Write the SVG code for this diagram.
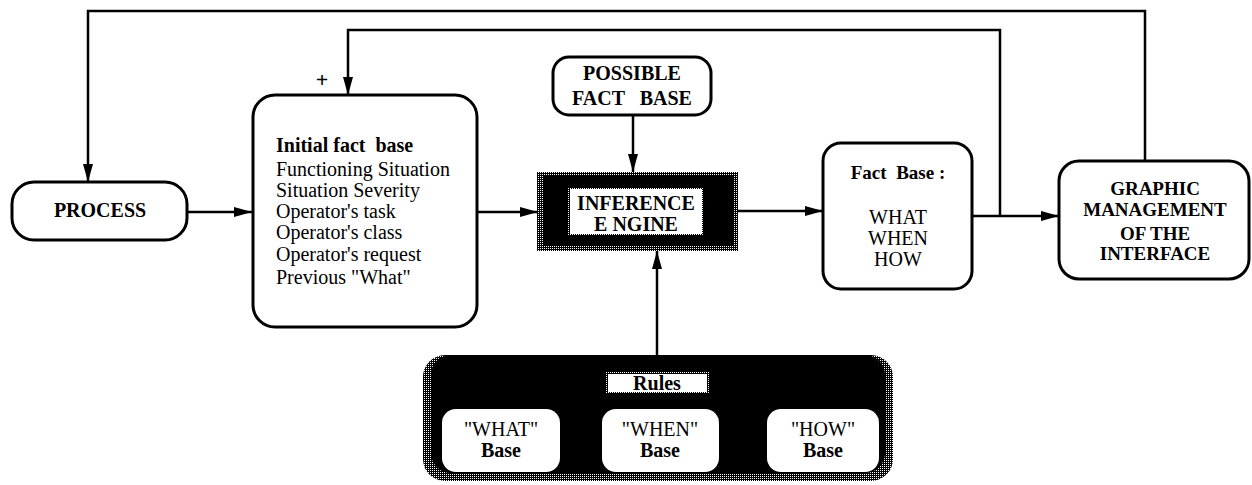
<svg xmlns="http://www.w3.org/2000/svg" width="1252" height="485" viewBox="0 0 1252 485">
  <style>
    .box { fill: #fff; stroke: #000; stroke-width: 3; }
    .wire { fill: none; stroke: #000; stroke-width: 2.5; }
    .t { font-family: "Liberation Serif", "Times New Roman", serif; fill: #000; }
    .b { font-weight: bold; }
    .c { text-anchor: middle; }
  </style>
  <defs>
    <!-- halftone grain used on the dark blocks -->
    <pattern id="stipple" width="2" height="2" patternUnits="userSpaceOnUse">
      <rect width="2" height="2" fill="#000"/>
      <rect width="1" height="1" fill="#fff"/>
    </pattern>
    <marker id="arrow" markerUnits="userSpaceOnUse" markerWidth="20" markerHeight="12" refX="18" refY="5" orient="auto">
      <path d="M0,0 L18,5 L0,10 z" fill="#000"/>
    </marker>
  </defs>

  <!-- connectors -->
  <g id="connectors">
    <line class="wire" x1="187" y1="212" x2="252" y2="212" marker-end="url(#arrow)"/>
    <line class="wire" x1="477" y1="212" x2="538" y2="212" marker-end="url(#arrow)"/>
    <line class="wire" x1="738" y1="211" x2="823" y2="211" marker-end="url(#arrow)"/>
    <line class="wire" x1="972" y1="216" x2="1059" y2="216" marker-end="url(#arrow)"/>
    <polyline class="wire" points="1000,216 1000,30 348,30 348,95" marker-end="url(#arrow)"/>
    <polyline class="wire" points="1145,161 1145,11 88,11 88,182" marker-end="url(#arrow)"/>
    <line class="wire" x1="633" y1="115" x2="633" y2="172" marker-end="url(#arrow)"/>
    <line class="wire" x1="657" y1="355" x2="657" y2="251" marker-end="url(#arrow)"/>
    <text class="t b" x="322" y="87" font-size="22" text-anchor="middle">+</text>
  </g>

  <g id="process">
    <rect class="box" x="12" y="182" width="175" height="58" rx="22"/>
    <text class="t b c" x="100" y="217" font-size="20">PROCESS</text>
  </g>

  <g id="initial-fact-base">
    <rect class="box" x="253" y="95" width="224" height="232" rx="22"/>
    <text class="t" x="276" font-size="20" xml:space="preserve">
      <tspan x="276" y="152" font-weight="bold">Initial fact  base</tspan>
      <tspan x="276" y="176">Functioning Situation</tspan>
      <tspan x="276" y="197">Situation Severity</tspan>
      <tspan x="276" y="218">Operator's task</tspan>
      <tspan x="276" y="239">Operator's class</tspan>
      <tspan x="276" y="261">Operator's request</tspan>
      <tspan x="276" y="284">Previous "What"</tspan>
    </text>
  </g>

  <g id="possible-fact-base">
    <rect class="box" x="553" y="57" width="158" height="58" rx="16"/>
    <text class="t b c" x="632" y="80" font-size="20">POSSIBLE</text>
    <text class="t b c" x="632" y="105" font-size="20" xml:space="preserve">FACT   BASE</text>
  </g>

  <g id="inference-engine">
    <rect x="537" y="172" width="201" height="79" fill="url(#stipple)"/>
    <rect x="543" y="175" width="190" height="70" fill="#000"/>
    <rect x="569" y="188" width="134" height="47" fill="#fff" stroke="url(#stipple)" stroke-width="2"/>
    <text class="t b c" x="636" y="210" font-size="20">INFERENCE</text>
    <text class="t b c" x="636" y="231" font-size="20">E NGINE</text>
  </g>

  <g id="fact-base">
    <rect class="box" x="823" y="143" width="149" height="146" rx="18"/>
    <text class="t b c" x="898" y="179" font-size="19" xml:space="preserve">Fact  Base :</text>
    <text class="t c" x="898" y="224" font-size="20">WHAT</text>
    <text class="t c" x="898" y="245" font-size="20">WHEN</text>
    <text class="t c" x="898" y="266" font-size="20">HOW</text>
  </g>

  <g id="graphic-management">
    <rect class="box" x="1059" y="161" width="190" height="118" rx="20"/>
    <text class="t b c" x="1155" y="195" font-size="19">GRAPHIC</text>
    <text class="t b c" x="1155" y="216" font-size="19">MANAGEMENT</text>
    <text class="t b c" x="1155" y="240" font-size="19">OF THE</text>
    <text class="t b c" x="1155" y="260" font-size="19">INTERFACE</text>
  </g>

  <g id="rules">
    <rect x="423" y="355" width="470" height="126" rx="22" fill="url(#stipple)"/>
    <rect x="431" y="355" width="454" height="118" rx="20" fill="#000"/>
    <rect x="607" y="373" width="101" height="20" fill="#fff" stroke="url(#stipple)" stroke-width="2"/>
    <text class="t b c" x="657" y="390" font-size="20">Rules</text>
  </g>

  <g id="what-base">
    <rect x="442" y="409" width="118" height="63" rx="14" fill="#fff"/>
    <text class="t c" x="501" y="436" font-size="20">"WHAT"</text>
    <text class="t b c" x="501" y="457" font-size="20">Base</text>
  </g>

  <g id="when-base">
    <rect x="602" y="409" width="117" height="63" rx="14" fill="#fff"/>
    <text class="t c" x="660" y="436" font-size="20">"WHEN"</text>
    <text class="t b c" x="660" y="457" font-size="20">Base</text>
  </g>

  <g id="how-base">
    <rect x="767" y="409" width="112" height="63" rx="14" fill="#fff"/>
    <text class="t c" x="823" y="436" font-size="20">"HOW"</text>
    <text class="t b c" x="823" y="457" font-size="20">Base</text>
  </g>
</svg>
